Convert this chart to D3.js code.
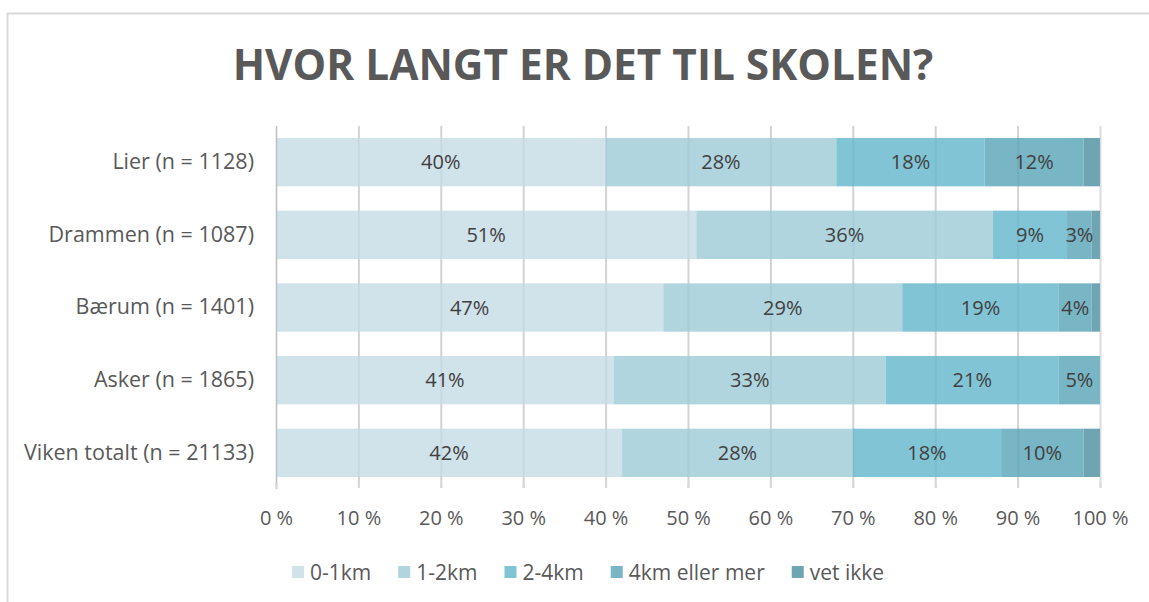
<!DOCTYPE html>
<html>
<head>
<meta charset="utf-8">
<script src="https://cdn.jsdelivr.net/npm/d3@7"></script>
<style>
  html, body { margin: 0; padding: 0; background: #ffffff; }
  svg { display: block; }
  text { font-family: "Open Sans", Lato, sans-serif; }
</style>
</head>
<body>
<svg id="chart" width="1149" height="602"></svg>
<script>
// Share of pupils by distance to school, per municipality
const categories = ["Lier (n = 1128)", "Drammen (n = 1087)", "Bærum (n = 1401)", "Asker (n = 1865)", "Viken totalt (n = 21133)"];
const seriesNames = ["0-1km", "1-2km", "2-4km", "4km eller mer", "vet ikke"];
const km0to1 = [40, 51, 47, 41, 42];
const km1to2 = [28, 36, 29, 33, 28];
const km2to4 = [18, 9, 19, 21, 18];
const km4plus = [12, 3, 4, 5, 10];
const vetIkke = [2, 1, 1, 0, 2];
const tickValues = [0, 10, 20, 30, 40, 50, 60, 70, 80, 90, 100];
const seriesColors = ["#d0e2ea", "#b0d5df", "#80c4d6", "#78b5c5", "#6fa5b3"];
const titleText = "HVOR LANGT ER DET TIL SKOLEN?";

const seriesValues = [km0to1, km1to2, km2to4, km4plus, vetIkke];
const rows = categories.map((c, i) => {
  const r = { category: c };
  seriesNames.forEach((s, k) => { r[s] = seriesValues[k][i]; });
  return r;
});

const svg = d3.select("#chart");
const W = 1149, H = 602;
const textColor = "#595959";

// chart frame (open to the right and bottom)
svg.append("rect")
  .attr("x", 7.5).attr("y", 13.5)
  .attr("width", W + 20).attr("height", H + 20)
  .attr("fill", "#ffffff")
  .attr("stroke", "#d9d9d9").attr("stroke-width", 2);

const plot = { left: 276, right: 1100, top: 126, bottom: 489 };

const x = d3.scaleLinear().domain([0, 100]).range([plot.left, plot.right]);
const y = d3.scaleBand().domain(categories).range([plot.top, plot.bottom])
  .paddingInner(0.335).paddingOuter(0.165);
const color = d3.scaleOrdinal().domain(seriesNames).range(seriesColors);

// title, fitted to its width
const title = svg.append("text")
  .attr("x", 583).attr("y", 80)
  .attr("text-anchor", "middle")
  .attr("font-weight", 700)
  .attr("font-family", "Lato, sans-serif")
  .attr("fill", textColor)
  .attr("font-size", 42)
  .text(titleText);
const tw = title.node().getComputedTextLength();
title.attr("font-size", 42 * 701 / tw);

// vertical gridlines
svg.append("g").selectAll("line").data(tickValues.slice(1)).join("line")
  .attr("x1", d => x(d) + 0.5).attr("x2", d => x(d) + 0.5)
  .attr("y1", plot.top).attr("y2", plot.bottom - 1)
  .attr("stroke", "#dcdcdc").attr("stroke-width", 2);

// stacked bars
const stack = d3.stack().keys(seriesNames);
const layers = stack(rows);
const gBars = svg.append("g");
layers.forEach(layer => {
  gBars.append("g").attr("fill", color(layer.key))
    .selectAll("rect").data(layer).join("rect")
    .attr("x", d => x(d[0]))
    .attr("width", d => Math.max(0, x(d[1]) - x(d[0])))
    .attr("y", d => y(d.data.category))
    .attr("height", y.bandwidth());
});

// faint gridlines visible through the bars
svg.append("g").selectAll("line").data(tickValues.slice(1, -1)).join("line")
  .attr("x1", d => x(d) + 0.5).attr("x2", d => x(d) + 0.5)
  .attr("y1", plot.top).attr("y2", plot.bottom - 1)
  .attr("stroke", "#000000").attr("stroke-opacity", 0.04).attr("stroke-width", 2);

// value labels (not for "vet ikke")
layers.filter(l => l.key !== "vet ikke").forEach(layer => {
  svg.append("g").selectAll("text").data(layer.filter(d => d[1] - d[0] > 0)).join("text")
    .attr("x", d => (x(d[0]) + x(d[1])) / 2)
    .attr("y", d => y(d.data.category) + y.bandwidth() / 2)
    .attr("dy", "0.36em")
    .attr("text-anchor", "middle")
    .attr("font-size", 20)
    .attr("fill", "#404040")
    .text(d => (d[1] - d[0]) + "%");
});

// left category axis
const yAxis = svg.append("g")
  .attr("transform", `translate(${plot.left},0)`)
  .call(d3.axisLeft(y).tickSize(0).tickPadding(22));
yAxis.select(".domain").attr("stroke", "#bfbfbf").attr("stroke-width", 1.5)
  .attr("d", `M0.5,${plot.top}V${plot.bottom}`);
yAxis.selectAll("text").attr("font-size", 21.5).attr("fill", textColor)
  .attr("font-family", "'Open Sans', sans-serif");

// bottom value axis: ticks and labels
const xAxis = svg.append("g")
  .attr("transform", `translate(0,${plot.bottom - 2})`)
  .call(d3.axisBottom(x).tickValues(tickValues).tickSize(0).tickPadding(24)
    .tickFormat(d => d + " %"));
xAxis.select(".domain").remove();
xAxis.selectAll("text").attr("font-size", 20).attr("fill", textColor)
  .attr("font-family", "'Open Sans', sans-serif");
svg.append("g").selectAll("line").data(tickValues).join("line")
  .attr("x1", d => x(d) + 0.5).attr("x2", d => x(d) + 0.5)
  .attr("y1", plot.bottom - 6).attr("y2", plot.bottom - 1)
  .attr("stroke", "#d9d9d9").attr("stroke-width", 2);

// legend, items laid out left to right by their text widths
const legendG = svg.append("g").attr("transform", "translate(0,572)");
let lx = 292;
seriesNames.forEach(name => {
  const item = legendG.append("g").attr("transform", `translate(${lx},0)`);
  item.append("rect")
    .attr("x", 0).attr("y", -6).attr("width", 12).attr("height", 12)
    .attr("fill", color(name));
  const t = item.append("text")
    .attr("x", 18).attr("dy", "0.36em")
    .attr("font-size", 21).attr("fill", textColor)
    .text(name);
  lx += 18 + t.node().getComputedTextLength() + 27;
});
</script>
</body>
</html>
